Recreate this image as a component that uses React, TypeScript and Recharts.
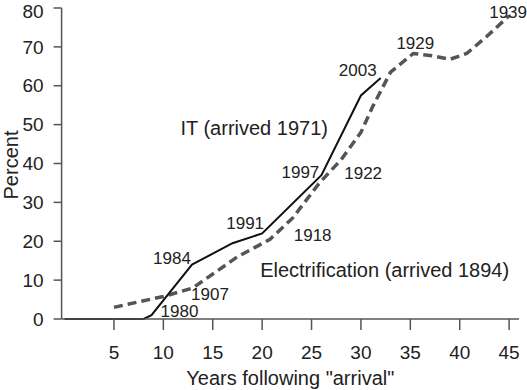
import React from 'react';
import { LineChart, Line, XAxis, YAxis, ReferenceDot } from 'recharts';

// years since "arrival" and percent
const itYears = [0, 8, 8.8, 12.9, 17, 20, 26, 30, 32];
const itPercent = [0, 0, 1, 14, 19.5, 22, 37, 57.5, 62];

const elecYears = [5, 10, 13, 17.5, 20.8, 23.1, 25.8, 28, 30, 31.2, 33, 35.3, 37, 39, 40.7, 42.7, 45];
const elecPercent = [3, 5.8, 8, 16, 20.5, 26, 35, 41, 48, 54.7, 63.5, 68.3, 67.8, 66.8, 68.3, 72.6, 78];

// calendar years marked along each curve
const itArrival = 1971;
const itMarks = [1980, 1984, 1991, 1997, 2003];
const itMarkPercent = [1, 14, 22, 37, 62];

const elecArrival = 1894;
const elecMarks = [1907, 1918, 1922, 1929, 1939];
const elecMarkPercent = [8, 29, 41, 68, 78];

const xTicks = [5, 10, 15, 20, 25, 30, 35, 40, 45];
const yTicks = [0, 10, 20, 30, 40, 50, 60, 70, 80];

const itData = itYears.map((x, i) => ({ x, y: itPercent[i] }));
const elecData = elecYears.map((x, i) => ({ x, y: elecPercent[i] }));

const FONT = '"Liberation Sans", Arial, Helvetica, sans-serif';
const INK = '#222';

// pixel nudges for the year tags (label sits beside its point)
const itOffsets = [[26, -4], [-21, -6], [-17, -10], [-21, -3], [-23, -7]];
const elecOffsets = [[17, 7], [11, 29], [22, 14], [5, -11], [-1, -3]];

const tag = (text: string, dx: number, dy: number, size: number) => (props: any) => {
    const vb = props.viewBox || {};
    const cx = (vb.x || 0) + (vb.width || 0) / 2;
    const cy = (vb.y || 0) + (vb.height || 0) / 2;
    return (
        <text x={cx + dx} y={cy + dy} textAnchor="middle" dominantBaseline="central"
            fontSize={size} fill={INK} fontFamily={FONT}>
            {text}
        </text>
    );
};

export default function App() {
    return (
        <div style={{ position: 'fixed', left: 0, top: 0, background: '#fff', fontFamily: FONT }}>
            <LineChart width={527} height={390} margin={{ top: 8, right: 8, bottom: 0, left: 0 }}>
                <XAxis
                    type="number"
                    dataKey="x"
                    domain={[-0.3, 46]}
                    ticks={xTicks}
                    height={71}
                    tickSize={11}
                    tickMargin={16}
                    stroke="#555"
                    strokeWidth={1.5}
                    tick={{ fontSize: 19, fill: INK }}
                    label={{
                        content: (p: any) => (
                            <text x={p.viewBox.x + p.viewBox.width / 2} y={378} textAnchor="middle"
                                dominantBaseline="central" fontSize={20} fill={INK} fontFamily={FONT}>
                                Years following "arrival"
                            </text>
                        ),
                    }}
                />
                <YAxis
                    type="number"
                    domain={[0, 80]}
                    ticks={yTicks}
                    width={61.6}
                    tickSize={8}
                    tickMargin={10}
                    stroke="#555"
                    strokeWidth={1.5}
                    tick={{ fontSize: 19, fill: INK }}
                    label={{
                        content: () => (
                            <text x={11} y={165} textAnchor="middle" dominantBaseline="central"
                                transform="rotate(-90 11 165)" fontSize={20} fill={INK} fontFamily={FONT}>
                                Percent
                            </text>
                        ),
                    }}
                />
                <Line data={elecData} dataKey="y" type="linear" stroke="#555" strokeWidth={3.5}
                    strokeDasharray="9 5" dot={false} isAnimationActive={false} />
                <Line data={itData} dataKey="y" type="linear" stroke="#111" strokeWidth={2}
                    dot={false} isAnimationActive={false} />

                {itMarks.map((yr, i) => (
                    <ReferenceDot key={'it' + yr} x={yr - itArrival} y={itMarkPercent[i]} r={0}
                        fill="none" stroke="none"
                        label={{ content: tag(String(yr), itOffsets[i][0], itOffsets[i][1], 17) }} />
                ))}
                {elecMarks.map((yr, i) => (
                    <ReferenceDot key={'el' + yr} x={yr - elecArrival} y={elecMarkPercent[i]} r={0}
                        fill="none" stroke="none"
                        label={{ content: tag(String(yr), elecOffsets[i][0], elecOffsets[i][1], 17) }} />
                ))}

                <ReferenceDot x={19.2} y={49.2} r={0} fill="none" stroke="none"
                    label={{ content: tag('IT (arrived 1971)', 0, 0, 20) }} />
                <ReferenceDot x={32.4} y={12.6} r={0} fill="none" stroke="none"
                    label={{ content: tag('Electrification (arrived 1894)', 0, 0, 20) }} />
            </LineChart>
        </div>
    );
}
